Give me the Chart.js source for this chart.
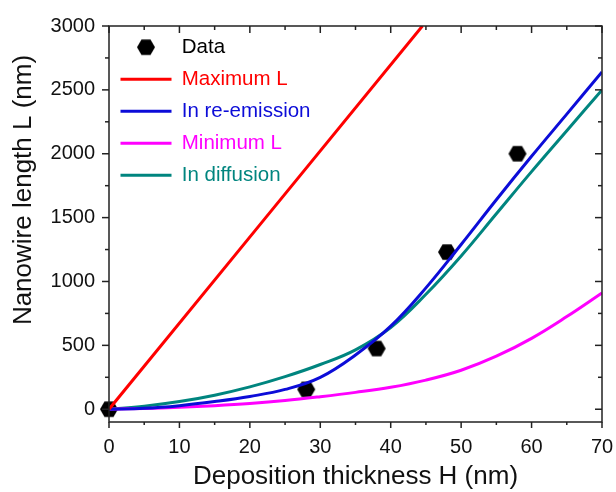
<!DOCTYPE html>
<html>
<head>
<meta charset="utf-8">
<script src="https://cdn.jsdelivr.net/npm/chart.js@4.4.1/dist/chart.umd.min.js"></script>
<style>
  html, body { margin: 0; padding: 0; background: #fff; }
  canvas { display: block; }
</style>
</head>
<body>
<canvas id="chart" width="616" height="492"></canvas>
<script>
// Nanowire length L vs deposition thickness H

// measured points
const dataH = [0, 28, 38, 48, 58];
const dataL = [0, 155, 475, 1230, 2000];

// maximum L (straight line)
const maxH = [0, 44.5];
const maxL = [0, 3000];

// model curves, sampled every 5 nm
const modelH = [0, 5, 10, 15, 20, 25, 30, 35, 40, 45, 50, 55, 60, 65, 70];
const reEmission = [0, 7, 28, 60, 100, 155, 250, 425, 650, 950, 1290, 1640, 1980, 2310, 2640];
const minimumL = [0, 6, 15, 28, 45, 68, 98, 132, 172, 228, 305, 415, 555, 725, 910];
const diffusion = [0, 24, 60, 110, 175, 255, 350, 465, 640, 900, 1200, 1530, 1860, 2180, 2500];

// axis ticks
const xTicks = [0, 10, 20, 30, 40, 50, 60, 70];
const yTicks = [0, 500, 1000, 1500, 2000, 2500, 3000];
const yTitle = 'Nanowire length L (nm)';

const FONT = '"Liberation Sans", Arial, sans-serif';

function pairs(xs, ys) {
  return xs.map((x, i) => ({ x, y: ys[i] }));
}

// hexagon marker (flat top / bottom)
function makeHexagon(r) {
  const c = document.createElement('canvas');
  c.width = Math.ceil(r * 2) + 2;
  c.height = Math.ceil(r * 1.75) + 2;
  const g = c.getContext('2d');
  const cx = c.width / 2, cy = c.height / 2;
  g.beginPath();
  for (let k = 0; k < 6; k++) {
    const a = k * Math.PI / 3;
    const px = cx + r * Math.cos(a), py = cy + r * Math.sin(a);
    k === 0 ? g.moveTo(px, py) : g.lineTo(px, py);
  }
  g.closePath();
  g.fillStyle = '#000';
  g.fill();
  return c;
}
const hexagon = makeHexagon(9);

function curve(label, xs, ys, color) {
  return {
    label,
    data: pairs(xs, ys),
    showLine: true,
    borderColor: color,
    backgroundColor: color,
    borderWidth: 3,
    pointRadius: 0,
    tension: 0.4,
    legendColor: color,
    order: 0,
  };
}

// frame + ticks (outward bottom/left, inward top/right) + y title
const frameTicks = {
  id: 'frameTicks',
  afterDraw(chart) {
    const { ctx, chartArea: a, scales: { x, y } } = chart;
    const seg = (x1, y1, x2, y2) => { ctx.beginPath(); ctx.moveTo(x1, y1); ctx.lineTo(x2, y2); ctx.stroke(); };
    ctx.save();
    ctx.strokeStyle = '#222';
    ctx.lineWidth = 1.5;
    ctx.strokeRect(a.left, a.top, a.right - a.left, a.bottom - a.top);
    xTicks.forEach((v, i) => {
      const px = x.getPixelForValue(v);
      seg(px, a.bottom, px, a.bottom + 6);
      seg(px, a.top, px, a.top + 7);
      if (i < xTicks.length - 1) {
        const mx = x.getPixelForValue((v + xTicks[i + 1]) / 2);
        seg(mx, a.bottom, mx, a.bottom + 3);
        seg(mx, a.top, mx, a.top + 4);
      }
    });
    yTicks.forEach((v, i) => {
      const py = y.getPixelForValue(v);
      seg(a.left - 7, py, a.left, py);
      seg(a.right - 7, py, a.right, py);
      if (i < yTicks.length - 1) {
        const my = y.getPixelForValue((v + yTicks[i + 1]) / 2);
        seg(a.left - 4, my, a.left, my);
        seg(a.right - 4, my, a.right, my);
      }
    });
    // y title sits a bit above the axis middle in the original
    ctx.translate(24, 190);
    ctx.rotate(-Math.PI / 2);
    ctx.fillStyle = '#111';
    ctx.font = '26px ' + FONT;
    ctx.textAlign = 'center';
    ctx.textBaseline = 'middle';
    ctx.fillText(yTitle, 0, 0);
    ctx.restore();
  }
};

new Chart(document.getElementById('chart'), {
  type: 'scatter',
  data: {
    datasets: [
      {
        label: 'Data',
        data: pairs(dataH, dataL),
        pointStyle: hexagon,
        pointRadius: 9,
        backgroundColor: '#000',
        borderColor: '#000',
        legendColor: '#000',
        clip: false,
        order: 10,
      },
      curve('Maximum L', maxH, maxL, '#ff0000'),
      curve('In re-emission', modelH, reEmission, '#0c0cd8'),
      curve('Minimum L', modelH, minimumL, '#ff00ff'),
      curve('In diffusion', modelH, diffusion, '#00857f'),
    ],
  },
  options: {
    responsive: false,
    animation: false,
    layout: { padding: { top: 24, right: 14, bottom: 0, left: 0 } },
    plugins: {
      tooltip: { enabled: false },
      legend: {
        position: 'chartArea',
        align: 'start',
        title: { display: true, text: ' ', font: { size: 10 }, padding: { top: 6, bottom: 7.5 } },
        labels: {
          usePointStyle: true,
          pointStyleWidth: 51,
          padding: 11.5,
          font: { family: FONT, size: 20.5 },
          sort: (a, b) => a.datasetIndex - b.datasetIndex,
          generateLabels(chart) {
            const items = Chart.defaults.plugins.legend.labels.generateLabels(chart);
            items.forEach(it => {
              const ds = chart.data.datasets[it.datasetIndex];
              it.fontColor = ds.legendColor;
              it.pointStyle = ds.showLine ? 'line' : hexagon;
              it.strokeStyle = ds.borderColor;
              it.lineWidth = 3;
            });
            return items;
          },
        },
      },
    },
    scales: {
      x: {
        type: 'linear',
        min: 0,
        max: 70,
        afterFit: s => { s.height = 70; s.paddingLeft = 0; s.paddingRight = 0; },
        afterBuildTicks: s => { s.ticks = xTicks.map(v => ({ value: v })); },
        grid: { display: false, drawTicks: false },
        border: { display: false },
        ticks: { color: '#111', padding: 13, font: { family: FONT, size: 20 }, callback: v => v },
        title: {
          display: true,
          text: 'Deposition thickness H (nm)',
          color: '#111',
          font: { family: FONT, size: 26 },
          padding: { top: 13, bottom: 0 },
        },
      },
      y: {
        type: 'linear',
        min: -100,
        max: 3000,
        afterFit: s => { s.width = 109; },
        afterBuildTicks: s => { s.ticks = yTicks.map(v => ({ value: v })); },
        grid: { display: false, drawTicks: false },
        border: { display: false },
        ticks: { color: '#111', padding: 14, font: { family: FONT, size: 20 }, callback: v => v },
      },
    },
  },
  plugins: [frameTicks],
});
</script>
</body>
</html>
